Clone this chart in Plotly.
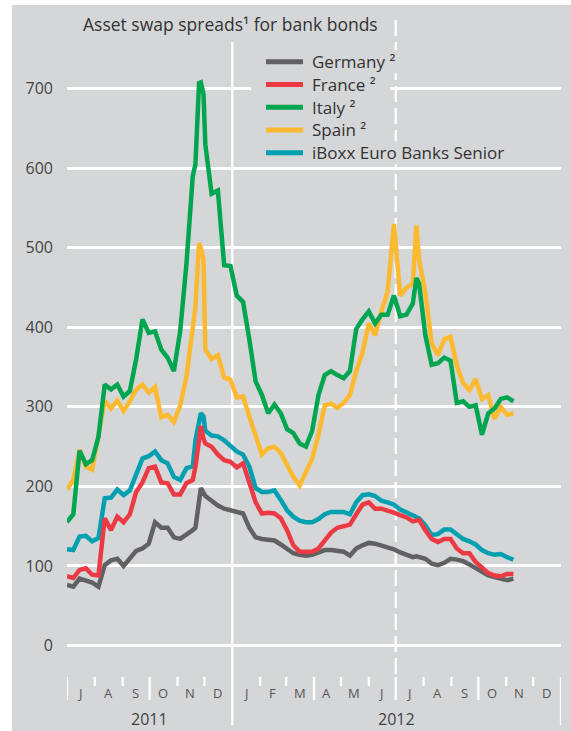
import plotly.graph_objects as go

# ---------------- data ----------------
dates = [
    "2011-07-01", "2011-07-08", "2011-07-15", "2011-07-22", "2011-07-29",
    "2011-08-05", "2011-08-12", "2011-08-19", "2011-08-26",
    "2011-09-02", "2011-09-09", "2011-09-16", "2011-09-23", "2011-09-30",
    "2011-10-07", "2011-10-14", "2011-10-21", "2011-10-28",
    "2011-11-04", "2011-11-11", "2011-11-18", "2011-11-21", "2011-11-25", "2011-11-27", "2011-11-30",
    "2011-12-02", "2011-12-09", "2011-12-16", "2011-12-23", "2011-12-30",
    "2012-01-06", "2012-01-13", "2012-01-20", "2012-01-27",
    "2012-02-03", "2012-02-10", "2012-02-17", "2012-02-24",
    "2012-03-02", "2012-03-09", "2012-03-16", "2012-03-23", "2012-03-30",
    "2012-04-06", "2012-04-13", "2012-04-20", "2012-04-27",
    "2012-05-04", "2012-05-11", "2012-05-18", "2012-05-25",
    "2012-06-01", "2012-06-08", "2012-06-15", "2012-06-22", "2012-06-29",
    "2012-07-06", "2012-07-13", "2012-07-20", "2012-07-24", "2012-07-27",
    "2012-08-03", "2012-08-10", "2012-08-17", "2012-08-24", "2012-08-31",
    "2012-09-07", "2012-09-14", "2012-09-21", "2012-09-28",
    "2012-10-05", "2012-10-12", "2012-10-19", "2012-10-26",
    "2012-11-02", "2012-11-09",
]

germany = [76, 74, 84, 82, 79,
           74, 101, 107, 109,
           100, 110, 119, 122, 128,
           155, 148, 148, 136,
           134, 139, 145, 148, 185, 198, 192,
           188, 182, 176, 172, 170,
           169, 166, 148, 136,
           134, 133, 132, 127,
           121, 116, 114, 113, 114,
           117, 120, 120, 119,
           118, 113, 122, 126,
           129, 128, 126, 124, 121,
           117, 114, 111, 112, 111,
           109, 103, 101, 104, 109,
           108, 106, 102, 97,
           92, 88, 86, 84,
           82, 84]

france = [87, 85, 95, 97, 89,
          88, 160, 145, 162,
          155, 165, 193, 205, 223,
          225, 205, 204, 190,
          190, 204, 208, 225, 258, 276, 260,
          254, 250, 240, 233, 231,
          224, 229, 205, 180,
          166, 167, 166, 160,
          145, 126, 118, 118, 118,
          122, 132, 142, 148,
          150, 152, 165, 177,
          180, 172, 172, 170, 167,
          164, 161, 156, 157, 158,
          145, 134, 130, 134, 134,
          122, 116, 116, 105,
          97, 91, 88, 87,
          90, 90]

italy = [155, 165, 245, 228, 233,
         262, 328, 322, 328,
         313, 320, 360, 410, 393,
         395, 372, 362, 345,
         395, 480, 590, 605, 707, 708, 693,
         630, 568, 572, 478, 477,
         440, 432, 385, 332,
         315, 292, 303, 292,
         272, 267, 254, 250, 270,
         315, 340, 345, 340,
         336, 345, 398, 410,
         420, 405, 416, 416, 440,
         414, 416, 430, 462, 455,
         390, 353, 355, 362, 358,
         305, 307, 300, 302,
         265, 292, 298, 310,
         312, 307]

spain = [196, 208, 246, 225, 221,
         265, 308, 298, 308,
         295, 307, 322, 328, 318,
         325, 287, 290, 281,
         302, 338, 405, 426, 506, 500, 485,
         372, 360, 365, 337, 334,
         312, 313, 288, 262,
         240, 248, 250, 242,
         228, 212, 201, 218, 235,
         265, 302, 304, 299,
         305, 315, 345, 368,
         405, 390, 420, 445, 530,
         440, 450, 455, 528, 485,
         443, 380, 365, 385, 388,
         352, 330, 321, 335,
         310, 315, 285, 300,
         290, 292]

iboxx = [121, 120, 137, 138, 131,
         135, 185, 186, 196,
         189, 195, 215, 235, 238,
         244, 233, 229, 212,
         208, 223, 225, 258, 285, 292, 288,
         270, 264, 263, 258, 250,
         244, 240, 225, 198,
         193, 193, 195, 183,
         170, 162, 157, 155, 155,
         159, 165, 168, 168,
         168, 165, 180, 189,
         190, 188, 182, 180, 177,
         171, 167, 164, 162, 160,
         151, 139, 140, 146, 146,
         140, 134, 131, 127,
         120, 116, 114, 115,
         111, 108]

series_names = ["Germany ²", "France ²", "Italy ²", "Spain ²", "iBoxx Euro Banks Senior"]
series_colors = ["#616163", "#ec3a44", "#00a54f", "#fdb92f", "#00a0b1"]

month_labels = ["J", "A", "S", "O", "N", "D", "J", "F", "M", "A", "M", "J",
                "J", "A", "S", "O", "N", "D"]
month_centers = ["2011-07-16", "2011-08-16", "2011-09-15", "2011-10-16", "2011-11-15", "2011-12-16",
                 "2012-01-16", "2012-02-15", "2012-03-16", "2012-04-15", "2012-05-16", "2012-06-15",
                 "2012-07-16", "2012-08-16", "2012-09-15", "2012-10-16", "2012-11-15", "2012-12-16"]
year_labels = ["2011", "2012"]
year_centers = ["2011-09-30 12:00", "2012-07-01 12:00"]
short_ticks = ["2011-08-01", "2011-09-01", "2011-11-01", "2011-12-01",
               "2012-02-01", "2012-03-01", "2012-05-01", "2012-06-01",
               "2012-08-01", "2012-09-01", "2012-11-01", "2012-12-01"]
long_ticks = ["2011-07-01", "2011-10-01", "2012-04-01", "2012-07-01", "2012-10-01"]
y_ticks = [0, 100, 200, 300, 400, 500, 600, 700]

# ---------------- layout geometry (pixels) ----------------
W, H = 571, 731
L, R, T, B = 67, 10, 40, 81
PW, PH = W - L - R, H - T - B
BG = "#d5d6d8"
FONT = "Open Sans, Noto Sans, DejaVu Sans, sans-serif"


def px_x(px):
    return (px - L) / PW


def px_y(py):
    return (H - B - py) / PH


fig = go.Figure()

vals = [germany, france, italy, spain, iboxx]
draw_order = [4, 0, 1, 3, 2]
for i in draw_order:
    fig.add_trace(go.Scatter(
        x=dates, y=vals[i], mode="lines", name=series_names[i],
        line=dict(color=series_colors[i], width=4.5),
        showlegend=False,
    ))

shapes = []
# grey panel
shapes.append(dict(type="rect", xref="paper", yref="paper", x0=px_x(12), x1=px_x(575),
                   y0=px_y(735), y1=px_y(5), fillcolor=BG, line_width=0, layer="below"))
# year separator
shapes.append(dict(type="line", xref="x", yref="paper", x0="2012-01-01", x1="2012-01-01",
                   y0=px_y(725), y1=px_y(42), line=dict(color="white", width=2.3), layer="below"))
# dashed mid-2012 line
shapes.append(dict(type="line", xref="x", yref="paper", x0="2012-07-01", x1="2012-07-01",
                   y0=px_y(674), y1=px_y(18), line=dict(color="white", width=2.3, dash="16px,6px"),
                   layer="below"))
# end line
shapes.append(dict(type="line", xref="x", yref="paper", x0="2013-01-01", x1="2013-01-01",
                   y0=px_y(725), y1=px_y(677), line=dict(color="white", width=2.3), layer="below"))
for d in short_ticks:
    shapes.append(dict(type="line", xref="x", yref="paper", x0=d, x1=d,
                       y0=px_y(686), y1=px_y(677), line=dict(color="white", width=2.3), layer="below"))
for d in long_ticks:
    shapes.append(dict(type="line", xref="x", yref="paper", x0=d, x1=d,
                       y0=px_y(700), y1=px_y(677), line=dict(color="white", width=2.3), layer="below"))

# legend (manual): row backgrounds, line keys, labels
row_centers = [61.7, 84.4, 107.2, 129.9, 152.7]
row_ends = [410, 390, 370, 380, 523]
for c, e in zip(row_centers, row_ends):
    shapes.append(dict(type="rect", xref="paper", yref="paper", x0=px_x(251), x1=px_x(e),
                       y0=px_y(c + 11.5), y1=px_y(c - 11.5), fillcolor=BG, line_width=0,
                       layer="above"))
for c, col in zip(row_centers, series_colors):
    shapes.append(dict(type="line", xref="paper", yref="paper", x0=px_x(266), x1=px_x(303),
                       y0=px_y(c), y1=px_y(c), line=dict(color=col, width=5), layer="above"))

annotations = []
for c, name in zip(row_centers, series_names):
    annotations.append(dict(text=name, xref="paper", yref="paper", x=px_x(310), y=px_y(c),
                            xanchor="left", yanchor="middle", showarrow=False,
                            font=dict(size=17, color="#333333", family=FONT)))
annotations.append(dict(text="Asset swap spreads¹ for bank bonds", xref="paper", yref="paper",
                        x=px_x(81), y=px_y(24), xanchor="left", yanchor="middle", showarrow=False,
                        font=dict(size=17.5, color="#333333", family=FONT)))
for lab, c in zip(month_labels, month_centers):
    annotations.append(dict(text=lab, xref="x", yref="paper", x=c, y=px_y(693),
                            xanchor="center", yanchor="middle", showarrow=False,
                            font=dict(size=13, color="#555555", family=FONT)))
for lab, c in zip(year_labels, year_centers):
    annotations.append(dict(text=lab, xref="x", yref="paper", x=c, y=px_y(719),
                            xanchor="center", yanchor="middle", showarrow=False,
                            font=dict(size=16, color="#444444", family=FONT)))

fig.update_layout(
    width=W, height=H,
    margin=dict(l=L, r=R, t=T, b=B, autoexpand=False),
    paper_bgcolor="white", plot_bgcolor=BG,
    font=dict(family=FONT, color="#333333"),
    showlegend=False,
    shapes=shapes,
    annotations=annotations,
    xaxis=dict(type="date", range=["2011-07-01", "2013-01-01"], showgrid=False,
               showticklabels=False, zeroline=False, showline=False, ticks=""),
    yaxis=dict(range=[-5.66, 761.3], tickvals=y_ticks, showgrid=True, gridcolor="white",
               gridwidth=2.6, zeroline=False, showline=False, ticks="",
               ticklabelstandoff=13,
               tickfont=dict(size=16, color="#444444", family=FONT)),
)

fig.write_html("out.html", config={"displayModeBar": False},
               post_script="document.body.style.margin='0';")
